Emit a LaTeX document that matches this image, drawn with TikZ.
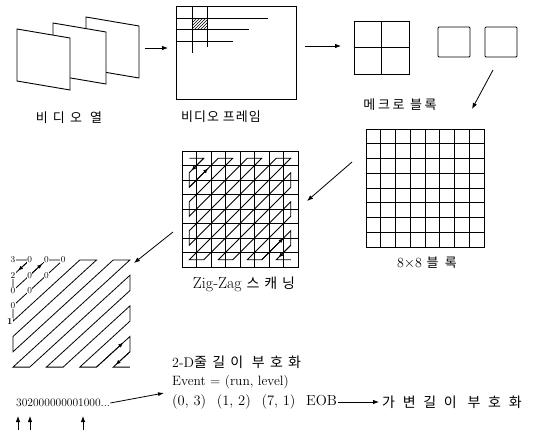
\documentclass[tikz,border=0pt]{standalone}
\usepackage{fontspec}
\newfontfamily\kr{Noto Sans CJK KR}
\usetikzlibrary{arrows.meta,calc,patterns}
\tikzset{
 shp/.style={line width=0.9pt},
 grd/.style={line width=0.7pt},
 arr/.style={-{Latex[length=6pt,width=4.5pt]}, line width=0.8pt},
 lbl/.style={inner sep=0pt, font=\fontsize{13}{15}\selectfont},
 zz/.style={line width=0.8pt},
 zarr/.style={-{Latex[length=5pt,width=4pt]}, line width=0.8pt},
 num/.style={inner sep=0.3pt, font=\fontsize{9}{10}\selectfont, fill=white},
}
\begin{document}
\begin{tikzpicture}[x=1pt,y=-1pt]
\useasboundingbox (0,0) rectangle (545,431);
% video sequence
\foreach \x/\y/\n in {86/17/f3,53/23/f2,17/29/f1}{
  \draw[shp,fill=white] (\x,\y) coordinate (\n) -- ++(53,9) -- ++(0,52) -- ++(-53,-9) -- cycle;
}
\node[lbl] (l1) at (69,118) {\kr\addfontfeature{LetterSpace=40}비디오 열};
\coordinate (a1s) at (145,48); \coordinate (a1e) at (168,48);
\draw[arr] (a1s) -- (a1e);
% video frame
\draw[shp] (176,6) coordinate (vf) rectangle (296,99);
\fill[pattern=north east lines] (192,18) rectangle (207,29);
\draw[grd] (192,6) -- (192,53);
\draw[grd] (207,6) -- (207,47);
\draw[grd] (176,18) -- (268,18);
\draw[grd] (176,29) -- (249,29);
\draw[grd] (176,41) -- (233,41);
\node[lbl] (l2) at (221,117) {\kr\addfontfeature{LetterSpace=8}비디오 프레임};
\coordinate (a2s) at (305,46); \coordinate (a2e) at (341,46);
\draw[arr] (a2s) -- (a2e);
% macroblock
\draw[shp] (354,21) coordinate (mb) rectangle (409,74);
\draw[grd] (381.5,21) -- (381.5,74);
\draw[grd] (354,47.5) -- (409,47.5);
\draw[shp,rounded corners=1pt] (438,27) coordinate (sb1) rectangle (470,57);
\draw[shp,rounded corners=1pt] (485,27) coordinate (sb2) rectangle (517,57);
\node[lbl] (l3) at (400,105) {\kr\addfontfeature{LetterSpace=20}메크로 블록};
\coordinate (a3s) at (493,70); \coordinate (a3e) at (472,109);
\draw[arr] (a3s) -- (a3e);
% 8x8 block
\draw[shp] (366,129) coordinate (b8) rectangle (484,247);
\foreach \i in {1,...,7}{
  \draw[grd] ({366+14.75*\i},129) -- ({366+14.75*\i},247);
  \draw[grd] (366,{129+14.75*\i}) -- (484,{129+14.75*\i});
}
\node[lbl] (l4) at (427,263) {\fontsize{14}{16}\selectfont 8$\times$8 {\kr\fontsize{13}{15}\selectfont\addfontfeature{LetterSpace=50}블록}};
\coordinate (a4s) at (352,162); \coordinate (a4e) at (307,201);
\draw[arr] (a4s) -- (a4e);
% zigzag grid
\draw[shp] (182,151) coordinate (zg) rectangle (298,267);
\foreach \i in {1,...,7}{
  \draw[grd] ({182+14.5*\i},151) -- ({182+14.5*\i},267);
  \draw[grd] (182,{151+14.5*\i}) -- (298,{151+14.5*\i});
}
\begin{scope}[shift={(189.25,158.25)},x=14.5pt,y=-14.5pt]
\draw[zz] (0,0) -- (1,0) -- (0,1) -- (0,2) -- (2,0) -- (3,0) -- (0,3) -- (0,4) -- (4,0) -- (5,0) -- (0,5) -- (0,6) -- (6,0) -- (7,0) -- (0,7) -- (1,7) -- (7,1) -- (7,2) -- (2,7) -- (3,7) -- (7,3) -- (7,4) -- (4,7) -- (5,7) -- (7,5) -- (7,6) -- (6,7) -- (7,7);
\draw[zarr] (1,0) -- ($(1,0)!0.85!(0,1)$);
\draw[zarr] (0,2) -- ($(0,2)!0.65!(2,0)$);
\draw[zarr] (5,7) -- ($(5,7)!0.75!(7,5)$);
\draw[zarr] (7,6) -- ($(7,6)!0.85!(6,7)$);
\end{scope}
\node[lbl] (l5) at (244,284) {\fontsize{16}{18}\selectfont Zig-Zag {\kr\fontsize{14}{16}\selectfont\addfontfeature{LetterSpace=35}스캐닝}};
\coordinate (a5s) at (173,232); \coordinate (a5e) at (134,263);
\draw[arr] (a5s) -- (a5e);
% coefficient pattern
\begin{scope}[shift={(13,260)},x=16.7pt,y=-15.3pt]
\draw[zz] (0,0) -- (1,0) -- (0,1) -- (0,2) -- (2,0) -- (3,0) -- (0,3) -- (0,4) -- (4,0) -- (5,0) -- (0,5) -- (0,6) -- (6,0) -- (7,0) -- (0,7) -- (1,7) -- (7,1) -- (7,2) -- (2,7) -- (3,7) -- (7,3) -- (7,4) -- (4,7) -- (5,7) -- (7,5) -- (7,6) -- (6,7) -- (7,7);
\draw[zarr] (1,0) -- ($(1,0)!0.7!(0,1)$);
\draw[zarr] (1,1) -- ($(1,1)!0.75!(2,0)$);
\draw[zarr] (5,7) -- ($(5,7)!0.8!(7,5)$);
\draw[zarr] (7,6) -- ($(7,6)!0.85!(6,7)$);
\node[num] (c00) at (0,0) {3};
\node[num] (c10) at (1,0) {0};
\node[num] (c01) at (0,1) {2};
\node[num] (c02) at (0,2) {0};
\node[num] (c11) at (1,1) {0};
\node[num] (c20) at (2,0) {0};
\node[num] (c30) at (3,0) {0};
\node[num] (c21) at (2,1) {0};
\node[num] (c12) at (1,2) {0};
\node[num] (c03) at (0,3) {0};
\node[num,anchor=east,font=\fontsize{9}{10}\selectfont\bfseries] (c04) at (0,4) {1};
\end{scope}
% bottom texts
\node[anchor=west,inner sep=0pt,font=\fontsize{11.5}{13}\selectfont] (seq) at (16,403) {302000000001000...};
\coordinate (a6e) at (164,393);
\draw[arr,-{Latex[length=6pt,width=4pt]}] (seq.east) -- (a6e);
\foreach \x/\n in {18/u1,30/u2,83/u3}{
  \coordinate (\n s) at (\x,430); \coordinate (\n e) at (\x,416);
  \draw[arr] (\n s) -- (\n e);
}
\node[lbl,anchor=west] (t1) at (172,362) {\fontsize{14}{16}\selectfont 2-D{\kr\addfontfeature{LetterSpace=38}줄길이 부호화}};
\node[lbl,anchor=west] (t2) at (172,382) {\fontsize{13.5}{16}\selectfont Event = (run, level)};
\node[lbl,anchor=west] (t3) at (172,402) {\fontsize{14.5}{17}\selectfont (0, 3)\hspace{6pt} (1, 2)\hspace{6pt} (7, 1)\hspace{6pt} EOB};
\node[lbl,anchor=west] (t4) at (382,402) {\kr\fontsize{14}{16}\selectfont\addfontfeature{LetterSpace=55}가변길이 부호화};
\draw[arr] ([xshift=1pt]t3.east) -- ([xshift=-3pt]t4.west);
\end{tikzpicture}
\end{document}
